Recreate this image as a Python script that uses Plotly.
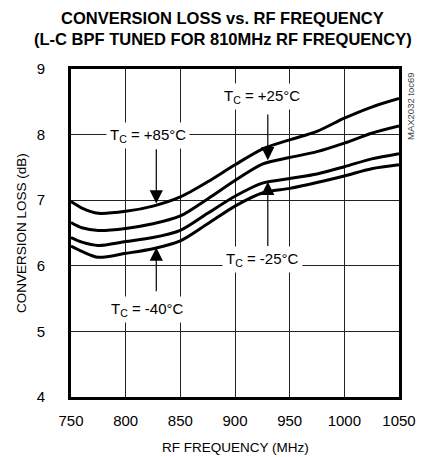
import plotly.graph_objects as go

freq = [750, 760, 775, 800, 825, 850, 875, 900, 925, 950, 975, 1000, 1025, 1050]
loss_p85 = [6.98, 6.88, 6.80, 6.83, 6.91, 7.05, 7.28, 7.54, 7.78, 7.92, 8.05, 8.25, 8.42, 8.55]
loss_p25 = [6.66, 6.58, 6.54, 6.57, 6.64, 6.76, 7.02, 7.30, 7.55, 7.65, 7.74, 7.87, 8.02, 8.13]
loss_m25 = [6.43, 6.36, 6.31, 6.37, 6.43, 6.54, 6.80, 7.06, 7.26, 7.33, 7.40, 7.51, 7.63, 7.71]
loss_m40 = [6.30, 6.22, 6.13, 6.19, 6.26, 6.38, 6.64, 6.91, 7.11, 7.18, 7.27, 7.37, 7.48, 7.54]

x_ticks = [750, 800, 850, 900, 950, 1000, 1050]
y_ticks = [4, 5, 6, 7, 8, 9]

FONT = "Liberation Sans Narrow, Liberation Sans, Arial, sans-serif"

fig = go.Figure()
for ys in [loss_p85, loss_p25, loss_m25, loss_m40]:
    fig.add_trace(go.Scatter(x=freq, y=ys, mode="lines",
                             line=dict(color="black", width=3, shape="spline", smoothing=0.8),
                             showlegend=False, hoverinfo="skip"))

labels = [
    ("T<sub>C</sub> = +85°C", 820, 7.98),
    ("T<sub>C</sub> = +25°C", 925, 8.58),
    ("T<sub>C</sub> = -25°C", 925, 6.10),
    ("T<sub>C</sub> = -40°C", 820, 5.34),
]
for t, x, y in labels:
    fig.add_annotation(x=x, y=y, xref="x", yref="y", text=t, showarrow=False,
                       bgcolor="white", borderpad=3,
                       font=dict(family=FONT, size=15, color="black"))

arrows = [
    (828, 7.80, 6.95),
    (930, 8.33, 7.61),
    (930, 6.28, 7.28),
    (828, 5.59, 6.28),
]
for x, ty, hy in arrows:
    fig.add_annotation(x=x, y=hy, ax=x, ay=ty, xref="x", yref="y", axref="x", ayref="y",
                       text="", showarrow=True, arrowhead=2, arrowsize=2.2, arrowwidth=1.2,
                       arrowcolor="black")

title_lines = ["<b>CONVERSION LOSS vs. RF FREQUENCY</b>",
               "<b>(L-C BPF TUNED FOR 810MHz RF FREQUENCY)</b>"]
for t, ys in zip(title_lines, [51, 30]):
    fig.add_annotation(x=0.463, y=1, xref="paper", yref="paper", xanchor="center",
                       yanchor="middle", yshift=ys, text=t, showarrow=False, borderpad=0,
                       font=dict(family=FONT, size=16.5, color="black"))

fig.add_annotation(x=0.5, y=0, xref="paper", yref="paper", yanchor="middle", yshift=-50,
                   text="RF FREQUENCY (MHz)", showarrow=False,
                   font=dict(family=FONT, size=13.5, color="black"))
fig.add_annotation(x=0, y=0.5, xref="paper", yref="paper", xanchor="center", yanchor="middle",
                   xshift=-50, text="CONVERSION LOSS (dB)", showarrow=False, textangle=-90,
                   font=dict(family=FONT, size=13.5, color="black"))
fig.add_annotation(x=1, y=1, xref="paper", yref="paper", xanchor="center", yanchor="top",
                   xshift=11, yshift=-1,
                   text="MAX2032 toc69", showarrow=False, textangle=-90,
                   font=dict(family=FONT, size=9.5, color="#444"))

fig.update_layout(
    width=422, height=449,
    margin=dict(l=63, r=31, t=61, b=60),
    paper_bgcolor="white", plot_bgcolor="white",
    xaxis=dict(range=[750, 1050], tickvals=x_ticks, showgrid=True, gridcolor="#222", gridwidth=1,
               showline=True, linecolor="black", linewidth=3, mirror=True, zeroline=False,
               ticks="outside", ticklen=8, tickcolor="rgba(0,0,0,0)",
               tickfont=dict(family=FONT, size=15, color="black")),
    yaxis=dict(range=[4, 9], tickvals=y_ticks, showgrid=True, gridcolor="#222", gridwidth=1,
               showline=True, linecolor="black", linewidth=3, mirror=True, zeroline=False,
               ticks="outside", ticklen=20, tickcolor="rgba(0,0,0,0)",
               tickfont=dict(family=FONT, size=15, color="black")),
)

fig.write_html("out.html")
